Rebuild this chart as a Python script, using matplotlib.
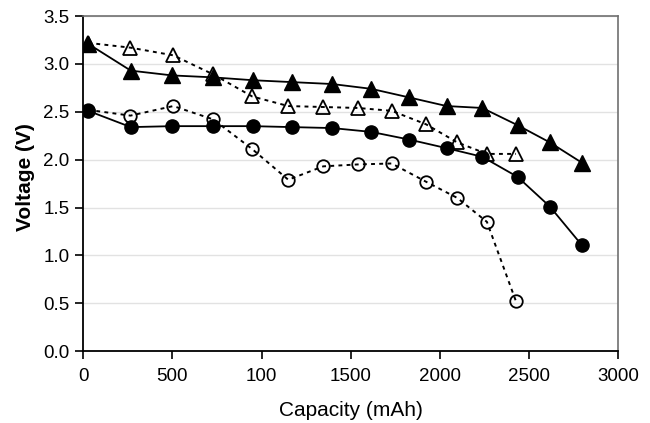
import matplotlib
matplotlib.use("Agg")
import matplotlib.pyplot as plt

plt.rcParams['font.family'] = ['Liberation Sans', 'DejaVu Sans']

# Filled series (solid lines)
cap_solid = [28, 267, 499, 726, 950, 1172, 1397, 1615, 1828, 2038, 2238, 2436, 2617, 2795]
v_tri_solid = [3.21, 2.93, 2.88, 2.86, 2.83, 2.81, 2.79, 2.74, 2.65, 2.56, 2.54, 2.36, 2.18, 1.97]
v_cir_solid = [2.51, 2.34, 2.35, 2.35, 2.35, 2.34, 2.33, 2.29, 2.21, 2.12, 2.03, 1.82, 1.51, 1.11]

# Hollow series (dotted lines)
cap_dot = [28, 265, 505, 730, 948, 1150, 1346, 1540, 1730, 1922, 2098, 2264, 2427]
v_tri_dot = [3.22, 3.17, 3.09, 2.89, 2.66, 2.56, 2.55, 2.54, 2.51, 2.37, 2.18, 2.06, 2.06]
v_cir_dot = [2.52, 2.46, 2.56, 2.42, 2.11, 1.79, 1.93, 1.95, 1.96, 1.77, 1.60, 1.35, 0.52]

x_ticks = [0, 500, 1000, 1500, 2000, 2500, 3000]
x_tick_labels = ["0", "500", "100", "1500", "2000", "2500", "3000"]
y_ticks = [0.0, 0.5, 1.0, 1.5, 2.0, 2.5, 3.0, 3.5]

fig = plt.figure(figsize=(6.5, 4.23), dpi=100)
ax = fig.add_axes([0.128, 0.170, 0.823, 0.792])

dot_style = (0, (2, 2.2))
ax.plot(cap_dot, v_cir_dot, linestyle=dot_style, color='black', lw=1.4,
        marker='o', ms=9, mfc='none', mec='black', mew=1.3, zorder=3)
ax.plot(cap_dot, v_tri_dot, linestyle=dot_style, color='black', lw=1.4,
        marker='^', ms=10.5, mfc='none', mec='black', mew=1.3, zorder=3)
ax.plot(cap_solid, v_cir_solid, linestyle='-', color='black', lw=1.3,
        marker='o', ms=9.5, mfc='black', mec='black', zorder=4)
ax.plot(cap_solid, v_tri_solid, linestyle='-', color='black', lw=1.3,
        marker='^', ms=11, mfc='black', mec='black', zorder=4)

ax.set_xlim(0, 3000)
ax.set_ylim(0, 3.5)
ax.set_xticks(x_ticks)
ax.set_xticklabels(x_tick_labels)
ax.set_yticks(y_ticks)
ax.set_yticklabels([f"{v:.1f}" for v in y_ticks])

ax.yaxis.grid(True, color='#e2e2e2', lw=1.0)
ax.set_axisbelow(True)

for s in ['left', 'bottom']:
    ax.spines[s].set_color('black')
    ax.spines[s].set_linewidth(1.3)
for s in ['top', 'right']:
    ax.spines[s].set_color('#707070')
    ax.spines[s].set_linewidth(1.2)

ax.tick_params(axis='both', direction='out', length=6, width=1.2, labelsize=13.5,
               colors='black')
ax.tick_params(axis='x', pad=6)
ax.tick_params(axis='y', pad=4)

ax.set_xlabel("Capacity (mAh)", fontsize=15, labelpad=12)
ax.set_ylabel("Voltage (V)", fontsize=15, fontweight='bold')
ax.yaxis.set_label_coords(-0.090, 0.52)

fig.savefig("out.png", dpi=100)
